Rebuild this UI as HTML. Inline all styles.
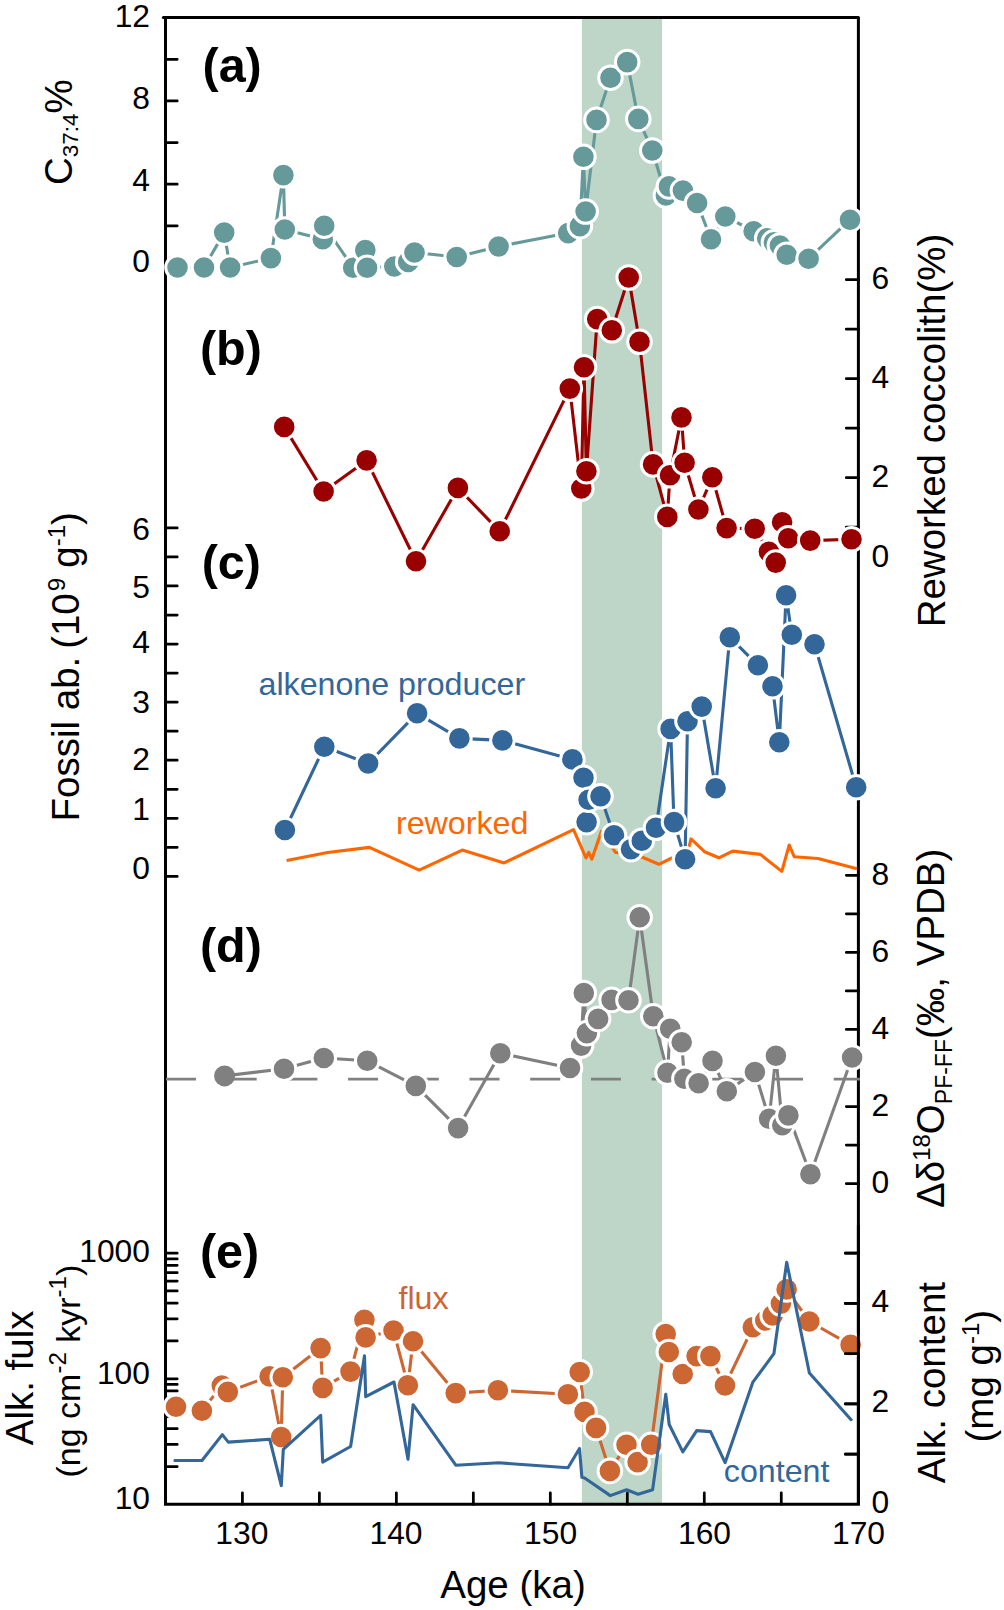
<!DOCTYPE html>
<html><head><meta charset="utf-8"><title>Figure</title>
<style>
html,body{margin:0;padding:0;background:#fff;}
svg{display:block;}
text{font-family:"Liberation Sans",sans-serif;fill:#000;}
.tk{font-size:31.8px;}
.ax{font-size:38.5px;}
.an{font-size:32.2px;}
.pl{font-size:48.5px;font-weight:bold;}
</style></head><body>
<svg width="1004" height="1610" viewBox="0 0 1004 1610">
<rect x="0" y="0" width="1004" height="1610" fill="#fff"/>
<rect x="581.9" y="17.5" width="80.2" height="1486.8" fill="#bdd6c8"/>
<path d="M165.5 17.5 V1504.3 H858.4 V17.5" fill="none" stroke="#000" stroke-width="3.0" stroke-linejoin="miter"/>
<line x1="163.4" y1="17.5" x2="858.4" y2="17.5" stroke="#000" stroke-width="3.0" stroke-linecap="round"/>
<path d="M165.5 59.27h11.7M165.5 100.90h11.7M165.5 142.53h11.7M165.5 184.16h11.7M165.5 225.79h11.7M165.5 267.42h11.7M165.5 527.90h11.7M165.5 556.94h11.7M165.5 585.98h11.7M165.5 615.02h11.7M165.5 644.06h11.7M165.5 673.10h11.7M165.5 702.14h11.7M165.5 731.18h11.7M165.5 760.22h11.7M165.5 789.26h11.7M165.5 818.30h11.7M165.5 847.34h11.7M165.5 876.38h11.7M165.5 1466.51h11.7M165.5 1444.40h11.7M165.5 1428.71h11.7M165.5 1416.54h11.7M165.5 1406.60h11.7M165.5 1398.20h11.7M165.5 1390.92h11.7M165.5 1384.49h11.7M165.5 1378.75h11.7M165.5 1340.96h11.7M165.5 1318.85h11.7M165.5 1303.16h11.7M165.5 1290.99h11.7M165.5 1281.05h11.7M165.5 1272.65h11.7M165.5 1265.37h11.7M165.5 1258.94h11.7M165.5 1253.20h11.7M858.4 279.65h-12.1M858.4 329.15h-12.1M858.4 378.65h-12.1M858.4 428.15h-12.1M858.4 477.65h-12.1M858.4 527.15h-12.1M858.4 875.30h-12.1M858.4 913.84h-12.1M858.4 952.39h-12.1M858.4 990.93h-12.1M858.4 1029.48h-12.1M858.4 1068.03h-12.1M858.4 1106.57h-12.1M858.4 1145.12h-12.1M858.4 1183.66h-12.1M858.4 1253.16h-13.1M858.4 1303.41h-13.1M858.4 1353.66h-13.1M858.4 1403.91h-13.1M858.4 1454.16h-13.1M242.41 1504.3v-11.5M319.39 1504.3v-11.5M396.37 1504.3v-11.5M473.35 1504.3v-11.5M550.33 1504.3v-11.5M627.31 1504.3v-11.5M704.29 1504.3v-11.5M781.27 1504.3v-11.5" fill="none" stroke="#000" stroke-width="2.75" stroke-linecap="round"/>
<line x1="166" y1="1079.2" x2="859.9" y2="1079.2" stroke="#808080" stroke-width="2.7" stroke-dasharray="30 30.7"/>
<polyline points="177.5,267.5 204.0,267.5 224.2,232.6 230.1,267.5 270.9,258.1 283.4,175.1 284.8,229.5 322.8,239.2 324.2,225.7 353.2,267.8 365.3,250.1 367.1,267.8 394.3,266.5 408.2,261.9 414.5,252.5 456.7,257.0 498.6,246.5 568.2,233.1 579.9,226.1 583.4,156.8 585.6,211.5 596.5,119.9 610.5,77.7 627.2,62.1 638.3,118.9 652.3,150.5 665.9,195.5 668.9,186.4 682.9,190.6 697.1,203.0 711.0,239.2 725.3,216.5 753.6,231.2 767.2,238.4 773.9,242.4 779.9,245.5 786.7,254.7 808.6,258.7 850.0,219.7" fill="none" stroke="#669999" stroke-width="3.1" stroke-linejoin="round"/>
<g fill="#669999" stroke="#fff" stroke-width="3.0">
<circle cx="177.5" cy="267.5" r="11.8"/><circle cx="204.0" cy="267.5" r="11.8"/><circle cx="224.2" cy="232.6" r="11.8"/><circle cx="230.1" cy="267.5" r="11.8"/><circle cx="270.9" cy="258.1" r="11.8"/><circle cx="283.4" cy="175.1" r="11.8"/><circle cx="284.8" cy="229.5" r="11.8"/><circle cx="322.8" cy="239.2" r="11.8"/><circle cx="324.2" cy="225.7" r="11.8"/><circle cx="353.2" cy="267.8" r="11.8"/><circle cx="365.3" cy="250.1" r="11.8"/><circle cx="367.1" cy="267.8" r="11.8"/><circle cx="394.3" cy="266.5" r="11.8"/><circle cx="408.2" cy="261.9" r="11.8"/><circle cx="414.5" cy="252.5" r="11.8"/><circle cx="456.7" cy="257.0" r="11.8"/><circle cx="498.6" cy="246.5" r="11.8"/><circle cx="568.2" cy="233.1" r="11.8"/><circle cx="579.9" cy="226.1" r="11.8"/><circle cx="583.4" cy="156.8" r="11.8"/><circle cx="585.6" cy="211.5" r="11.8"/><circle cx="596.5" cy="119.9" r="11.8"/><circle cx="610.5" cy="77.7" r="11.8"/><circle cx="627.2" cy="62.1" r="11.8"/><circle cx="638.3" cy="118.9" r="11.8"/><circle cx="652.3" cy="150.5" r="11.8"/><circle cx="665.9" cy="195.5" r="11.8"/><circle cx="668.9" cy="186.4" r="11.8"/><circle cx="682.9" cy="190.6" r="11.8"/><circle cx="697.1" cy="203.0" r="11.8"/><circle cx="711.0" cy="239.2" r="11.8"/><circle cx="725.3" cy="216.5" r="11.8"/><circle cx="753.6" cy="231.2" r="11.8"/><circle cx="767.2" cy="238.4" r="11.8"/><circle cx="773.9" cy="242.4" r="11.8"/><circle cx="779.9" cy="245.5" r="11.8"/><circle cx="786.7" cy="254.7" r="11.8"/><circle cx="808.6" cy="258.7" r="11.8"/><circle cx="850.0" cy="219.7" r="11.8"/>
</g>
<polyline points="284.2,426.9 323.6,491.5 366.6,460.4 416.0,561.2 457.9,487.9 499.7,531.3 569.8,388.6 581.3,488.5 584.0,367.2 586.4,471.2 597.2,319.1 611.8,330.3 628.7,277.5 639.5,341.8 653.1,464.4 667.3,516.9 670.0,475.3 681.5,417.4 684.6,462.7 698.4,509.5 712.3,477.3 726.6,528.1 754.7,528.8 768.9,551.8 775.7,562.6 782.1,522.3 788.2,538.3 810.2,540.6 851.5,539.3" fill="none" stroke="#990000" stroke-width="3.1" stroke-linejoin="round"/>
<g fill="#990000" stroke="#fff" stroke-width="3.0">
<circle cx="284.2" cy="426.9" r="11.8"/><circle cx="323.6" cy="491.5" r="11.8"/><circle cx="366.6" cy="460.4" r="11.8"/><circle cx="416.0" cy="561.2" r="11.8"/><circle cx="457.9" cy="487.9" r="11.8"/><circle cx="499.7" cy="531.3" r="11.8"/><circle cx="569.8" cy="388.6" r="11.8"/><circle cx="581.3" cy="488.5" r="11.8"/><circle cx="584.0" cy="367.2" r="11.8"/><circle cx="586.4" cy="471.2" r="11.8"/><circle cx="597.2" cy="319.1" r="11.8"/><circle cx="611.8" cy="330.3" r="11.8"/><circle cx="628.7" cy="277.5" r="11.8"/><circle cx="639.5" cy="341.8" r="11.8"/><circle cx="653.1" cy="464.4" r="11.8"/><circle cx="667.3" cy="516.9" r="11.8"/><circle cx="670.0" cy="475.3" r="11.8"/><circle cx="681.5" cy="417.4" r="11.8"/><circle cx="684.6" cy="462.7" r="11.8"/><circle cx="698.4" cy="509.5" r="11.8"/><circle cx="712.3" cy="477.3" r="11.8"/><circle cx="726.6" cy="528.1" r="11.8"/><circle cx="754.7" cy="528.8" r="11.8"/><circle cx="768.9" cy="551.8" r="11.8"/><circle cx="775.7" cy="562.6" r="11.8"/><circle cx="782.1" cy="522.3" r="11.8"/><circle cx="788.2" cy="538.3" r="11.8"/><circle cx="810.2" cy="540.6" r="11.8"/><circle cx="851.5" cy="539.3" r="11.8"/>
</g>
<polyline points="286.6,860.5 327.6,852.5 369.4,847.4 419.2,870.1 462.2,850.1 504.1,862.9 573.5,829.7 586.0,857.8 588.7,852.4 591.8,859.2 601.3,831.4 615.5,852.4 631.1,854.0 643.6,857.8 658.8,864.3 670.7,858.5 676.3,856.5 685.2,862.5 691.0,838.9 704.5,851.7 718.8,857.8 732.7,851.1 760.4,854.4 781.8,871.4 789.2,845.0 794.3,856.8 818.0,858.5 857.0,868.7" fill="none" stroke="#ff6600" stroke-width="3.1" stroke-linejoin="round" stroke-linecap="butt"/>
<polyline points="284.9,830.0 324.3,746.8 368.1,763.5 417.1,713.3 459.4,738.4 502.4,740.4 572.4,759.4 583.5,777.7 586.6,822.1 588.6,799.7 600.5,796.3 614.0,835.3 631.0,849.2 641.8,840.7 656.0,827.8 670.6,728.9 674.0,822.1 685.1,859.3 687.5,721.2 701.7,706.6 715.6,788.2 729.8,637.2 757.9,665.3 772.5,686.3 779.3,742.2 786.1,595.2 791.8,634.8 814.5,644.3 856.2,787.2" fill="none" stroke="#336699" stroke-width="3.1" stroke-linejoin="round"/>
<g fill="#336699" stroke="#fff" stroke-width="3.0">
<circle cx="284.9" cy="830.0" r="11.8"/><circle cx="324.3" cy="746.8" r="11.8"/><circle cx="368.1" cy="763.5" r="11.8"/><circle cx="417.1" cy="713.3" r="11.8"/><circle cx="459.4" cy="738.4" r="11.8"/><circle cx="502.4" cy="740.4" r="11.8"/><circle cx="572.4" cy="759.4" r="11.8"/><circle cx="583.5" cy="777.7" r="11.8"/><circle cx="586.6" cy="822.1" r="11.8"/><circle cx="588.6" cy="799.7" r="11.8"/><circle cx="600.5" cy="796.3" r="11.8"/><circle cx="614.0" cy="835.3" r="11.8"/><circle cx="631.0" cy="849.2" r="11.8"/><circle cx="641.8" cy="840.7" r="11.8"/><circle cx="656.0" cy="827.8" r="11.8"/><circle cx="670.6" cy="728.9" r="11.8"/><circle cx="674.0" cy="822.1" r="11.8"/><circle cx="685.1" cy="859.3" r="11.8"/><circle cx="687.5" cy="721.2" r="11.8"/><circle cx="701.7" cy="706.6" r="11.8"/><circle cx="715.6" cy="788.2" r="11.8"/><circle cx="729.8" cy="637.2" r="11.8"/><circle cx="757.9" cy="665.3" r="11.8"/><circle cx="772.5" cy="686.3" r="11.8"/><circle cx="779.3" cy="742.2" r="11.8"/><circle cx="786.1" cy="595.2" r="11.8"/><circle cx="791.8" cy="634.8" r="11.8"/><circle cx="814.5" cy="644.3" r="11.8"/><circle cx="856.2" cy="787.2" r="11.8"/>
</g>
<polyline points="224.6,1075.9 284.0,1068.7 323.8,1058.0 367.2,1060.8 415.8,1085.9 458.1,1128.1 500.3,1053.2 570.0,1068.0 581.1,1045.6 583.8,993.1 586.9,1033.1 598.1,1018.9 611.6,999.9 628.5,1000.2 639.7,917.3 653.3,1016.2 667.5,1072.7 670.2,1028.7 681.7,1042.2 684.4,1078.8 698.6,1083.2 712.5,1060.9 726.8,1091.3 754.9,1072.0 769.1,1118.8 775.9,1055.8 782.3,1125.2 788.4,1115.4 810.4,1174.3 852.1,1057.5" fill="none" stroke="#808080" stroke-width="3.1" stroke-linejoin="round"/>
<g fill="#808080" stroke="#fff" stroke-width="3.0">
<circle cx="224.6" cy="1075.9" r="10.5" stroke="none"/><circle cx="284.0" cy="1068.7" r="11.8"/><circle cx="323.8" cy="1058.0" r="11.8"/><circle cx="367.2" cy="1060.8" r="11.8"/><circle cx="415.8" cy="1085.9" r="11.8"/><circle cx="458.1" cy="1128.1" r="11.8"/><circle cx="500.3" cy="1053.2" r="11.8"/><circle cx="570.0" cy="1068.0" r="11.8"/><circle cx="581.1" cy="1045.6" r="11.8"/><circle cx="583.8" cy="993.1" r="11.8"/><circle cx="586.9" cy="1033.1" r="11.8"/><circle cx="598.1" cy="1018.9" r="11.8"/><circle cx="611.6" cy="999.9" r="11.8"/><circle cx="628.5" cy="1000.2" r="11.8"/><circle cx="639.7" cy="917.3" r="11.8"/><circle cx="653.3" cy="1016.2" r="11.8"/><circle cx="667.5" cy="1072.7" r="11.8"/><circle cx="670.2" cy="1028.7" r="11.8"/><circle cx="681.7" cy="1042.2" r="11.8"/><circle cx="684.4" cy="1078.8" r="11.8"/><circle cx="698.6" cy="1083.2" r="11.8"/><circle cx="712.5" cy="1060.9" r="11.8"/><circle cx="726.8" cy="1091.3" r="11.8"/><circle cx="754.9" cy="1072.0" r="11.8"/><circle cx="769.1" cy="1118.8" r="11.8"/><circle cx="775.9" cy="1055.8" r="11.8"/><circle cx="782.3" cy="1125.2" r="11.8"/><circle cx="788.4" cy="1115.4" r="11.8"/><circle cx="810.4" cy="1174.3" r="11.8"/><circle cx="852.1" cy="1057.5" r="11.8"/>
</g>
<polyline points="176.0,1406.7 201.9,1410.7 221.8,1385.6 227.8,1391.9 269.6,1376.4 281.2,1437.0 282.8,1377.2 320.6,1348.1 322.6,1387.9 350.5,1371.6 364.4,1319.8 365.6,1337.4 393.5,1330.6 407.9,1385.2 413.0,1341.3 455.7,1393.1 497.9,1390.3 567.9,1394.3 579.7,1372.0 584.5,1411.9 596.0,1427.9 609.9,1470.9 626.5,1444.8 637.6,1462.1 651.2,1444.8 665.7,1334.1 668.8,1352.0 682.7,1374.0 696.6,1356.1 710.4,1356.1 725.0,1385.5 752.8,1327.3 765.3,1320.5 772.7,1315.4 780.9,1303.6 786.6,1289.4 809.3,1321.5 850.6,1344.9" fill="none" stroke="#cc6633" stroke-width="3.1" stroke-linejoin="round"/>
<g fill="#cc6633" stroke="#fff" stroke-width="3.0">
<circle cx="176.0" cy="1406.7" r="11.8"/><circle cx="201.9" cy="1410.7" r="11.8"/><circle cx="221.8" cy="1385.6" r="11.8"/><circle cx="227.8" cy="1391.9" r="11.8"/><circle cx="269.6" cy="1376.4" r="11.8"/><circle cx="281.2" cy="1437.0" r="11.8"/><circle cx="282.8" cy="1377.2" r="11.8"/><circle cx="320.6" cy="1348.1" r="11.8"/><circle cx="322.6" cy="1387.9" r="11.8"/><circle cx="350.5" cy="1371.6" r="11.8"/><circle cx="364.4" cy="1319.8" r="11.8"/><circle cx="365.6" cy="1337.4" r="11.8"/><circle cx="393.5" cy="1330.6" r="11.8"/><circle cx="407.9" cy="1385.2" r="11.8"/><circle cx="413.0" cy="1341.3" r="11.8"/><circle cx="455.7" cy="1393.1" r="11.8"/><circle cx="497.9" cy="1390.3" r="11.8"/><circle cx="567.9" cy="1394.3" r="11.8"/><circle cx="579.7" cy="1372.0" r="11.8"/><circle cx="584.5" cy="1411.9" r="11.8"/><circle cx="596.0" cy="1427.9" r="11.8"/><circle cx="609.9" cy="1470.9" r="11.8"/><circle cx="626.5" cy="1444.8" r="11.8"/><circle cx="637.6" cy="1462.1" r="11.8"/><circle cx="651.2" cy="1444.8" r="11.8"/><circle cx="665.7" cy="1334.1" r="11.8"/><circle cx="668.8" cy="1352.0" r="11.8"/><circle cx="682.7" cy="1374.0" r="11.8"/><circle cx="696.6" cy="1356.1" r="11.8"/><circle cx="710.4" cy="1356.1" r="11.8"/><circle cx="725.0" cy="1385.5" r="11.8"/><circle cx="752.8" cy="1327.3" r="11.8"/><circle cx="765.3" cy="1320.5" r="11.8"/><circle cx="772.7" cy="1315.4" r="11.8"/><circle cx="780.9" cy="1303.6" r="11.8"/><circle cx="786.6" cy="1289.4" r="11.8"/><circle cx="809.3" cy="1321.5" r="11.8"/><circle cx="850.6" cy="1344.9" r="11.8"/>
</g>
<path d="M858.4 1225V1504.3" fill="none" stroke="#000" stroke-width="3.0"/>
<path d="M858.4 1253.16h-13.1M858.4 1303.41h-13.1M858.4 1353.66h-13.1M858.4 1403.91h-13.1M858.4 1454.16h-13.1" fill="none" stroke="#000" stroke-width="2.75" stroke-linecap="round"/>
<polyline points="174.9,1460.5 202.0,1460.5 222.3,1434.6 228.3,1442.1 269.7,1439.3 281.3,1485.6 283.3,1449.3 320.7,1415.4 322.7,1462.1 350.6,1446.5 364.5,1355.7 365.7,1396.7 394.0,1382.0 408.0,1459.3 413.1,1404.7 455.8,1465.2 498.8,1462.8 568.0,1467.8 579.5,1448.5 581.9,1477.3 584.6,1478.0 610.3,1495.6 626.6,1489.8 638.1,1494.2 652.6,1489.8 665.8,1394.3 669.2,1424.5 682.8,1451.9 696.7,1430.6 710.5,1431.6 725.1,1462.7 752.9,1382.1 773.9,1353.7 786.7,1262.3 809.4,1373.0 851.1,1419.7" fill="none" stroke="#336699" stroke-width="3.1" stroke-linejoin="round" stroke-linecap="round"/>
<text class="tk" x="150.0" y="27.4" text-anchor="end">12</text>
<text class="tk" x="150.0" y="108.6" text-anchor="end">8</text>
<text class="tk" x="150.0" y="190.5" text-anchor="end">4</text>
<text class="tk" x="150.0" y="272.4" text-anchor="end">0</text>
<text class="tk" x="150.0" y="539.6" text-anchor="end">6</text>
<text class="tk" x="150.0" y="598.1" text-anchor="end">5</text>
<text class="tk" x="150.0" y="653.4" text-anchor="end">4</text>
<text class="tk" x="150.0" y="713.1" text-anchor="end">3</text>
<text class="tk" x="150.0" y="769.7" text-anchor="end">2</text>
<text class="tk" x="150.0" y="819.5" text-anchor="end">1</text>
<text class="tk" x="150.0" y="878.5" text-anchor="end">0</text>
<text class="tk" x="150.0" y="1261.9" text-anchor="end">1000</text>
<text class="tk" x="150.0" y="1384.0" text-anchor="end">100</text>
<text class="tk" x="150.0" y="1508.8" text-anchor="end">10</text>
<text class="tk" x="871.5" y="288.5" text-anchor="start">6</text>
<text class="tk" x="871.5" y="387.8" text-anchor="start">4</text>
<text class="tk" x="871.5" y="487.2" text-anchor="start">2</text>
<text class="tk" x="871.5" y="567.0" text-anchor="start">0</text>
<text class="tk" x="871.5" y="884.5" text-anchor="start">8</text>
<text class="tk" x="871.5" y="961.6" text-anchor="start">6</text>
<text class="tk" x="871.5" y="1038.8" text-anchor="start">4</text>
<text class="tk" x="871.5" y="1116.0" text-anchor="start">2</text>
<text class="tk" x="871.5" y="1192.9" text-anchor="start">0</text>
<text class="tk" x="871.5" y="1312.3" text-anchor="start">4</text>
<text class="tk" x="871.5" y="1412.4" text-anchor="start">2</text>
<text class="tk" x="871.5" y="1512.5" text-anchor="start">0</text>
<text class="tk" x="241.8" y="1544.3" text-anchor="middle">130</text>
<text class="tk" x="396.0" y="1544.3" text-anchor="middle">140</text>
<text class="tk" x="550.6" y="1544.3" text-anchor="middle">150</text>
<text class="tk" x="704.5" y="1544.3" text-anchor="middle">160</text>
<text class="tk" x="858.5" y="1544.3" text-anchor="middle">170</text>
<text class="ax" x="513" y="1597.6" text-anchor="middle">Age (ka)</text>
<text class="ax" transform="translate(72,185) rotate(-90)">C<tspan font-size="22.5" dy="6.2">37:4</tspan><tspan dy="-6.2">%</tspan></text>
<text class="ax" transform="translate(79.1,821.5) rotate(-90)">Fossil ab. <tspan dx="-2.8">(10</tspan><tspan font-size="24" dy="-14.3" dx="2">9</tspan><tspan dy="14.3" dx="-0.5"> g</tspan><tspan font-size="24" dy="-14.3">-1</tspan><tspan dy="14.3">)</tspan></text>
<text class="ax" transform="translate(32.9,1377.9) rotate(-90)" text-anchor="middle">Alk. fulx</text>
<text class="ax" style="font-size:34px" transform="translate(79.7,1477.5) rotate(-90)">(ng cm<tspan font-size="24" dy="-13.5">-2</tspan><tspan dy="13.5"> kyr</tspan><tspan font-size="24" dy="-13.5">-1</tspan><tspan dy="13.5">)</tspan></text>
<text class="ax" transform="translate(945,430.5) rotate(-90)" text-anchor="middle">Reworked coccolith(%)</text>
<text class="ax" transform="translate(943.8,1208) rotate(-90)">Δδ<tspan font-size="24" dy="-13.5">18</tspan><tspan dy="13.5">O</tspan><tspan font-size="23" dy="8.3">PF-FF</tspan><tspan dy="-8.3">(‰, VPDB)</tspan></text>
<text class="ax" transform="translate(944.9,1382.6) rotate(-90)" text-anchor="middle">Alk. content</text>
<text class="ax" transform="translate(993,1442.5) rotate(-90)">(mg g<tspan font-size="24" dy="-14.3">-1</tspan><tspan dy="14.3">)</tspan></text>
<text class="an" x="258.5" y="694.7" style="fill:#336699">alkenone producer</text>
<text class="an" x="396" y="834.3" style="fill:#ff6600">reworked</text>
<text class="an" x="398.5" y="1308.9" style="fill:#cc6633">flux</text>
<text class="an" x="723.8" y="1482.4" style="fill:#336699">content</text>
<text class="pl" x="202.5" y="82.1">(a)</text>
<text class="pl" x="199.9" y="364.7">(b)</text>
<text class="pl" x="201.7" y="578.5">(c)</text>
<text class="pl" x="199.9" y="961.8">(d)</text>
<text class="pl" x="199.9" y="1267.5">(e)</text>
</svg>
</body></html>
